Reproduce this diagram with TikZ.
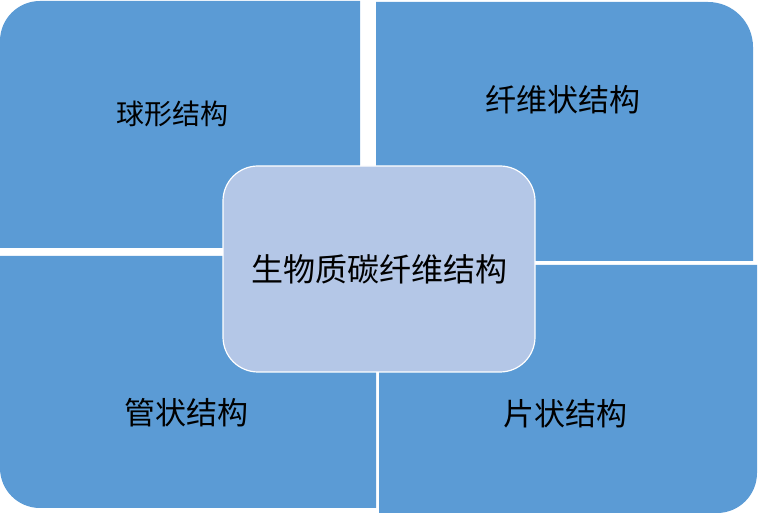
\documentclass[tikz,border=0pt]{standalone}
\usepackage{fontspec}
\setmainfont{Noto Sans CJK SC}
\usepackage{tikz}
\definecolor{quad}{HTML}{5B9BD5}
\definecolor{core}{HTML}{B4C7E7}
\tikzset{
    part/.style={fill=quad},
    lab/.style={font=\fontsize{31}{31}\selectfont},
    hub/.style={draw=white, line width=1.2pt, fill=core, rounded corners=35pt,
        minimum width=312pt, minimum height=206pt, font=\fontsize{32}{32}\selectfont}
}
\begin{document}
\begin{tikzpicture}[x=1pt, y=1pt]
    \useasboundingbox (0,0) rectangle (765,516);
    \fill[part] (360,268) -- (0,268) -- (0,475) arc[start angle=180, end angle=90, radius=40] -- (360,515) -- cycle;
    \fill[part] (376,255) -- (376,514) -- (708,514) arc[start angle=90, end angle=0, radius=45] -- (753,255) -- cycle;
    \fill[part] (376,260) -- (0,260) -- (0,48) arc[start angle=180, end angle=270, radius=40] -- (376,8) -- cycle;
    \fill[part] (379,251) -- (757,251) -- (757,43) arc[start angle=0, end angle=-90, radius=40] -- (379,3) -- cycle;
    \node[lab, font=\fontsize{28}{28}\selectfont] (A) at (172,402) {球形结构};
    \node[lab] (B) at (563,416) {纤维状结构};
    \node[lab] (C) at (186,103) {管状结构};
    \node[lab] (D) at (565,102) {片状结构};
    \node[hub] (O) at (379,247) {生物质碳纤维结构};
\end{tikzpicture}
\end{document}
